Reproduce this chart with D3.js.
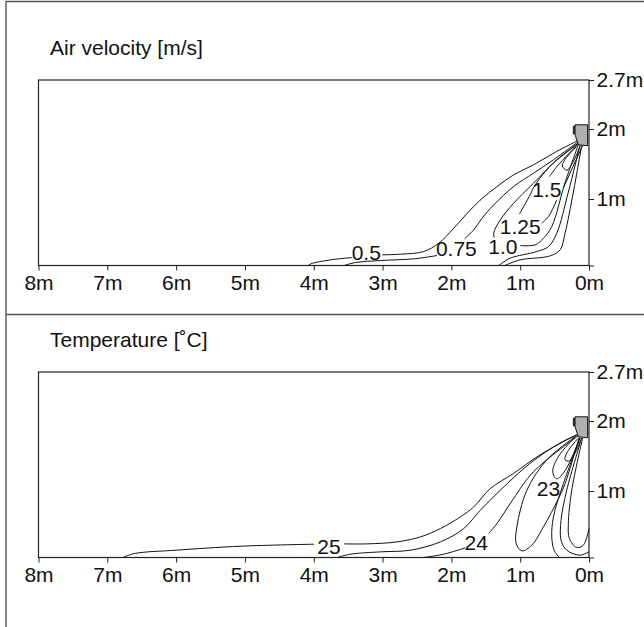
<!DOCTYPE html>
<html><head><meta charset="utf-8">
<script src="https://cdn.jsdelivr.net/npm/d3@7"></script>
<style>html,body{margin:0;padding:0;background:#fff}svg{display:block}text{font-family:"Liberation Sans",Arial,sans-serif;fill:#111}</style>
</head><body><svg id="c" width="644" height="627"></svg>
<script>
const xTicks=[8,7,6,5,4,3,2,1,0];
const yTicks=[0,1,2,2.7];
const yLabels=["","1m","2m","2.7m"];
const titles=["Air velocity [m/s]","Temperature [˚C]"];
const device=[[.203,2.06],[.02,2.06],[.02,1.76],[.155,1.775],[.203,1.92]];
const knob=[[.227,2.04],[.203,2.04],[.203,1.93],[.227,1.93]];

const velocityLines=[
[[.155,1.837],[.469,1.68],[.807,1.488],[1.097,1.344],[1.338,1.177],[1.55,1.01],[1.725,.835],[1.966,.56],[2.184,.335],[2.401,.21],[2.739,.17],[3.005,.16]],
[[3.44,.12],[3.754,.085],[4.043,.025],[4.08,0]],
[[.14,1.83],[.517,1.56],[.807,1.368],[1.097,1.177],[1.386,.91],[1.556,.71],[1.676,.535],[1.81,.4]],
[[2.208,.15],[2.546,.1],[3.029,.075],[3.39,.045],[3.56,0]],
[[.14,1.809],[.469,1.56],[.807,1.225],[1.097,.935],[1.29,.685],[1.386,.485],[1.377,.42]],
[[1.0,.3],[.783,.31],[.662,.41],[.541,.585],[.348,1.235],[.155,1.775]],
[[.13,1.81],[.565,1.47],[.807,1.16],[.855,1.06],[1.01,.775]],
[[.686,.635],[.589,.735],[.469,.985]],
[[.372,1.16],[.09,1.77]],
[[.575,1.32],[.469,1.46],[.155,1.789]],
[[.179,1.751],[.348,1.565],[.386,1.469],[.324,1.411],[.251,1.493],[.13,1.751]],
[[.13,1.77],[.3,1.1],[.469,.485],[.589,.285],[.758,.21],[1.145,.11],[1.3,.01],[1.32,0]],
[[.106,1.77],[.227,1.1],[.348,.485],[.42,.235],[.565,.145],[1.0,.085],[1.203,.01],[1.23,0]]
];
const velocityLabels=[["0.5",3.237,.195],["0.75",1.928,.26],["1.0",1.251,.285],["1.25",1.0,.585],["1.5",.614,1.139]];

const temperatureLines=[
[[.179,1.807],[.71,1.517],[1.097,1.251],[1.435,1.034],[1.676,.76],[1.87,.61],[2.159,.435],[2.449,.31],[2.787,.235],[3.222,.205],[3.56,.205]],
[[3.995,.2],[5.058,.17],[6.0,.11],[6.604,.06],[6.773,0]],
[[.155,1.807],[.42,1.686],[.855,1.396],[1.29,1.01],[1.58,.71],[1.821,.435],[2.159,.235],[2.594,.11],[3.029,.085],[3.464,.05],[3.657,0]],
[[.155,1.792],[.807,1.275],[1.097,.885],[1.338,.51],[1.459,.36]],
[[1.797,.145],[2.111,.05],[2.401,0]],
[[.179,1.792],[.614,1.444],[.903,1.01],[1.048,.46],[1.058,.21],[.976,.1],[.831,.185],[.662,.46],[.444,.885],[.348,1.106],[.14,1.773]],
[[.203,1.768],[.444,1.493],[.527,1.275],[.469,1.174],[.348,1.29],[.13,1.758]],
[[.155,1.758],[.324,1.541],[.348,1.444],[.285,1.43],[.203,1.541],[.106,1.758]],
[[.13,1.758],[.372,1.106],[.517,.61],[.541,.31],[.507,.11],[.43,0]],
[[.106,1.758],[.324,1.01],[.406,.56],[.406,.26],[.324,.11],[.13,.035],[0,.085]],
[[.092,1.758],[.251,1.01],[.3,.51],[.285,.285],[.179,.15],[.082,.185],[0,.435]]
];
const temperatureLabels=[["25",3.778,.16],["24",1.638,.225],["23",.589,1.03]];

const svg=d3.select("#c");
const ink="#222";
const frame=svg.append("g").attr("fill","none").attr("stroke","#555").attr("stroke-width",1.4);
frame.append("path").attr("d","M6,627V1.5H644");
frame.append("path").attr("d","M6,314.5H644");

const x=d3.scaleLinear().domain([8,0]).range([38.5,589]);
function panel(top,title,lines,labels){
  const y=d3.scaleLinear().domain(yTicks).range([top+185.5,top+119,top+49,top]);
  const g=svg.append("g");
  g.append("text").attr("x",50).attr("y",top-25).attr("font-size",21).text(title);
  g.append("rect").attr("x",x(8)).attr("y",y(2.7)).attr("width",x(0)-x(8)).attr("height",y(0)-y(2.7)).attr("fill","none").attr("stroke",ink).attr("stroke-width",1.2);
  const ax=g.append("g").attr("transform",`translate(0,${y(0)})`).call(d3.axisBottom(x).tickValues(xTicks).tickSize(5).tickSizeOuter(0).tickFormat(d=>d+"m"));
  ax.select(".domain").remove();
  ax.selectAll("text").attr("font-size",21).attr("font-family","Liberation Sans").attr("y",24).attr("dy",0);
  const ay=g.append("g").attr("transform",`translate(${x(0)},0)`).call(d3.axisRight(y).tickValues(yTicks).tickSize(5).tickSizeOuter(0).tickFormat((d,i)=>yLabels[i]));
  ay.select(".domain").remove();
  ay.selectAll("text").attr("font-size",21).attr("font-family","Liberation Sans").attr("x",7.5);
  g.selectAll("g.tick line").attr("stroke",ink);
  const line=d3.line().x(d=>x(d[0])).y(d=>y(d[1])).curve(d3.curveCatmullRom.alpha(.5));
  g.append("g").selectAll("path").data(lines).join("path").attr("d",line).attr("fill","none").attr("stroke","#111").attr("stroke-width",1);
  g.append("g").selectAll("text").data(labels).join("text").attr("x",d=>x(d[1])).attr("y",d=>y(d[2])).attr("font-size",21).attr("text-anchor","middle").attr("dy","0.36em").text(d=>d[0]);
  const poly=d3.line().x(d=>x(d[0])).y(d=>y(d[1])).curve(d3.curveLinearClosed);
  g.append("path").attr("d",poly(knob)).attr("fill","#777").attr("stroke","#111");
  g.append("path").attr("d",poly(device)).attr("fill","#b0b0b0").attr("stroke","#111");
}
panel(80,titles[0],velocityLines,velocityLabels);
panel(372,titles[1],temperatureLines,temperatureLabels);
</script></body></html>
